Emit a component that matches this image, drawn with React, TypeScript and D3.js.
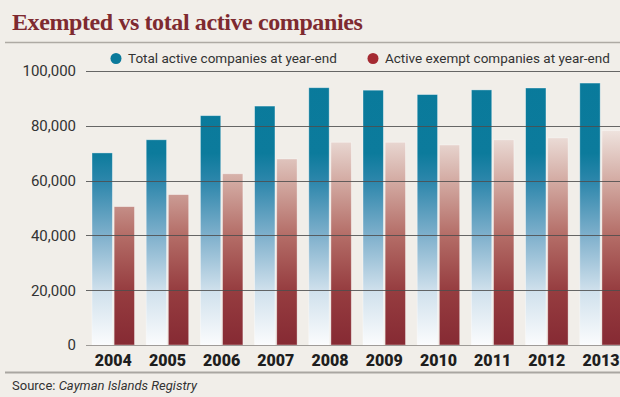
import * as d3 from "d3";
import { useEffect, useRef } from "react";

// values
const years = ["2004", "2005", "2006", "2007", "2008", "2009", "2010", "2011", "2012", "2013"];
const totalActive = [70100, 74900, 83700, 87200, 93900, 93000, 91400, 93100, 93800, 95600];
const exemptActive = [50500, 54900, 62500, 67900, 74000, 74000, 73000, 74900, 75600, 78300];
const yTicks = [0, 20000, 40000, 60000, 80000, 100000];
const seriesKeys = ["total", "exempt"];
const seriesLabels = ["Total active companies at year-end", "Active exempt companies at year-end"];

const W = 620;
const H = 397;

function CompaniesChart() {
	const ref = useRef<SVGSVGElement | null>(null);

	useEffect(() => {
		const svg = d3.select(ref.current);
		svg.selectAll("*").remove();

		const sans = "Roboto, 'Noto Sans', sans-serif";

		svg.append("rect").attr("width", W).attr("height", H).attr("fill", "#f1eee9");

		// title
		svg.append("text")
			.attr("x", 12)
			.attr("y", 30)
			.attr("font-family", "'Liberation Serif', 'DejaVu Serif', serif")
			.attr("font-weight", "bold")
			.attr("font-size", 24)
			.attr("letter-spacing", -0.4)
			.attr("fill", "#7e2a30")
			.text("Exempted vs total active companies");

		svg.append("line")
			.attr("x1", 5).attr("x2", W)
			.attr("y1", 42.5).attr("y2", 42.5)
			.attr("stroke", "#aeaaa4")
			.attr("stroke-width", 1.5);

		const y = d3.scaleLinear().domain([0, 100000]).range([345, 71]);
		const x = d3.scaleBand().domain(years).range([92, 622.3]).paddingInner(0.216).paddingOuter(0);
		const xs = d3.scaleBand().domain(seriesKeys).range([0, x.bandwidth()]).paddingInner(0.08);

		// gradients, shared by all bars (user space so same colour at same height)
		const defs = svg.append("defs");
		const blueStops = [
			[0, "#097a9b"], [0.3, "#0c7b9c"], [0.4, "#2c86ab"],
			[0.6, "#7fb0cc"], [0.8, "#cfe0ec"], [1, "#fbfcfd"]
		];
		const redStops = [
			[0, "#f1ebe7"], [0.22, "#eee2dd"], [0.4, "#d3aba3"],
			[0.6, "#b46d67"], [0.8, "#963d40"], [1, "#862a33"]
		];
		const addGrad = (id: string, stops: any[]) => {
			const g = defs.append("linearGradient")
				.attr("id", id)
				.attr("gradientUnits", "userSpaceOnUse")
				.attr("x1", 0).attr("x2", 0)
				.attr("y1", y(100000)).attr("y2", y(0));
			g.selectAll("stop")
				.data(stops)
				.enter()
				.append("stop")
				.attr("offset", (d) => d[0])
				.attr("stop-color", (d) => d[1]);
		};
		addGrad("grad-total", blueStops);
		addGrad("grad-exempt", redStops);

		const rows = years.map((yr, i) => ({ year: yr, total: totalActive[i], exempt: exemptActive[i] }));

		const groups = svg.append("g")
			.selectAll("g")
			.data(rows)
			.enter()
			.append("g")
			.attr("transform", (d) => "translate(" + x(d.year) + ",0)");

		groups.selectAll("rect")
			.data((d) => seriesKeys.map((k) => ({ key: k, value: (d as any)[k] })))
			.enter()
			.append("rect")
			.attr("x", (d) => xs(d.key)!)
			.attr("width", xs.bandwidth())
			.attr("y", (d) => y(d.value))
			.attr("height", (d) => y(0) - y(d.value))
			.attr("fill", (d) => "url(#grad-" + d.key + ")")
			.attr("stroke", "#ffffff")
			.attr("stroke-opacity", 0.45)
			.attr("stroke-width", 0.8);

		// gridlines over the bars
		svg.append("g")
			.selectAll("line")
			.data(yTicks)
			.enter()
			.append("line")
			.attr("x1", 86).attr("x2", W)
			.attr("y1", (d) => Math.round(y(d)) + 0.5)
			.attr("y2", (d) => Math.round(y(d)) + 0.5)
			.attr("stroke", (d) => (d === 0 ? "#8f8c88" : "#4d4d4d"))
			.attr("stroke-opacity", 0.85)
			.attr("stroke-width", 1);

		svg.append("g")
			.selectAll("text")
			.data(yTicks)
			.enter()
			.append("text")
			.attr("x", 76)
			.attr("y", (d) => y(d))
			.attr("dy", "0.36em")
			.attr("text-anchor", "end")
			.attr("font-family", sans)
			.attr("font-size", 15)
			.attr("fill", "#333")
			.text((d) => d3.format(",")(d));

		// year labels
		svg.append("g")
			.selectAll("text")
			.data(years)
			.enter()
			.append("text")
			.attr("x", (d) => x(d)! + x.bandwidth() / 2)
			.attr("y", 366)
			.attr("text-anchor", "middle")
			.attr("font-family", sans)
			.attr("font-weight", 900)
			.attr("font-size", 16)
			.attr("fill", "#1e1e1e")
			.text((d) => d);

		// legend
		const legendX = [116, 373];
		const legendColors = ["#0b7a9b", "#a52a32"];
		seriesLabels.forEach((label, i) => {
			svg.append("circle")
				.attr("cx", legendX[i])
				.attr("cy", 58.5)
				.attr("r", 5.5)
				.attr("fill", legendColors[i]);
			svg.append("text")
				.attr("x", legendX[i] + 12)
				.attr("y", 63)
				.attr("font-family", sans)
				.attr("font-size", 13.5)
				.attr("fill", "#333")
				.text(label);
		});

		// footer
		svg.append("line")
			.attr("x1", 5).attr("x2", W)
			.attr("y1", 372.5).attr("y2", 372.5)
			.attr("stroke", "#a9a6a1")
			.attr("stroke-width", 2);

		const src = svg.append("text")
			.attr("x", 12)
			.attr("y", 390)
			.attr("font-family", sans)
			.attr("font-size", 13)
			.attr("fill", "#333");
		src.append("tspan").text("Source: ");
		src.append("tspan").attr("font-style", "italic").text("Cayman Islands Registry");
	}, []);

	return (
		<svg
			ref={ref}
			width={W}
			height={H}
			style={{ position: "absolute", left: 0, top: 0, display: "block" }}
		/>
	);
}

export default function App() {
	return <CompaniesChart />;
}
